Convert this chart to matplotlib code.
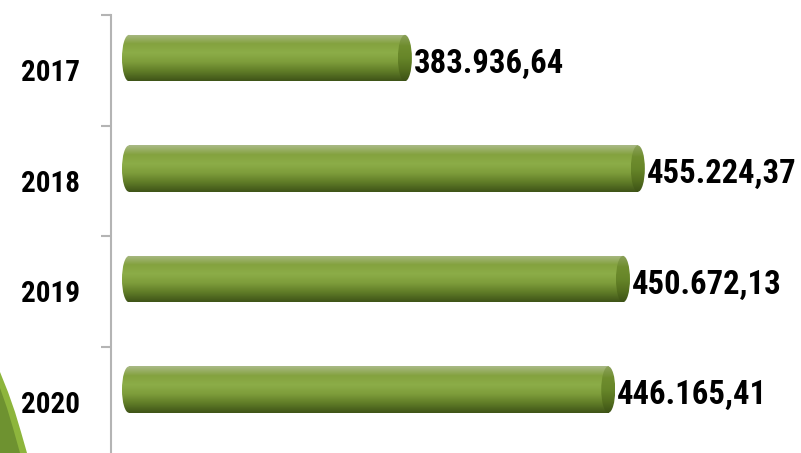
import numpy as np
import matplotlib
matplotlib.use("Agg")
import matplotlib.pyplot as plt
from matplotlib.patches import Ellipse, Polygon
from matplotlib.colors import LinearSegmentedColormap

# Data
years = ["2017", "2018", "2019", "2020"]
values = [383936.64, 455224.37, 450672.13, 446165.41]
labels = ["383.936,64", "455.224,37", "450.672,13", "446.165,41"]

font = ["Roboto Condensed", "Liberation Sans", "DejaVu Sans"]

fig = plt.figure(figsize=(8.01, 4.53), dpi=100)
ax = fig.add_axes([111 / 801, -4 / 453, 682 / 801, 442 / 453])

xmin, xmax = 294000, 502700
base = 299500
cap = 2140          # half width of the end caps in data units
h = 0.42            # bar thickness
shift = 0.11        # bars sit a bit above the slot centre

body_cmap = LinearSegmentedColormap.from_list(
    "body", ["#a9b985", "#84a23f", "#8cad48", "#7d9c3a", "#5f7b27", "#3f5418"])
cap_cmap = LinearSegmentedColormap.from_list(
    "cap", ["#8da25c", "#6f8d2e", "#678629", "#55701f", "#3d5216"])
grad = np.linspace(0, 1, 100).reshape(-1, 1)

for i, (v, lab) in enumerate(zip(values, labels)):
    y = i - shift
    # left rounded end
    el = Ellipse((base, y), 2 * cap, h, facecolor="none", edgecolor="none")
    ax.add_patch(el)
    im = ax.imshow(grad, cmap=body_cmap, aspect="auto",
                   extent=(base - cap, base + cap, y + h / 2, y - h / 2), zorder=2)
    im.set_clip_path(el)
    # body
    bar = ax.barh(y, v - base, left=base, height=h, color="none", zorder=2)[0]
    im = ax.imshow(grad, cmap=body_cmap, aspect="auto",
                   extent=(base, v, y + h / 2, y - h / 2), zorder=2)
    im.set_clip_path(bar)
    # right cap
    er = Ellipse((v, y), 2 * cap, h, facecolor="none", edgecolor="none", zorder=3)
    ax.add_patch(er)
    im = ax.imshow(grad, cmap=cap_cmap, aspect="auto",
                   extent=(v - cap, v + cap, y + h / 2, y - h / 2), zorder=3)
    im.set_clip_path(er)
    ax.text(v + cap + 500, y + 0.05, lab, ha="left", va="center",
            fontsize=23.5, fontweight="bold", family=font, color="black")

ax.set_xlim(xmin, xmax)
ax.set_ylim(3.5, -0.5)

for s in ["top", "right", "bottom"]:
    ax.spines[s].set_visible(False)
ax.spines["left"].set_color("#b4b4b4")
ax.spines["left"].set_linewidth(1.5)
ax.set_xticks([])
ax.set_yticks([-0.5, 0.5, 1.5, 2.5])
ax.set_yticklabels([])
ax.tick_params(axis="y", which="major", length=7.5, width=1.5, color="#b4b4b4")
ax.set_yticks(range(len(years)), minor=True)
ax.set_yticklabels(years, minor=True, fontsize=21, fontweight="bold", family=font)
ax.tick_params(axis="y", which="minor", length=0, pad=22)

# decorative slide shape in the bottom-left corner
W, H = 801, 453
outer = [(0, 372), (8, 392), (15, 412), (21, 432), (27, 453), (0, 453)]
inner = [(0, 388), (7, 408), (13, 428), (20, 453), (0, 453)]
fig.add_artist(Polygon([(x / W, 1 - y / H) for x, y in outer], closed=True,
                       transform=fig.transFigure, facecolor="#8db53c", edgecolor="none"))
fig.add_artist(Polygon([(x / W, 1 - y / H) for x, y in inner], closed=True,
                       transform=fig.transFigure, facecolor="#6e9230", edgecolor="none"))

fig.savefig("out.png", dpi=100)
